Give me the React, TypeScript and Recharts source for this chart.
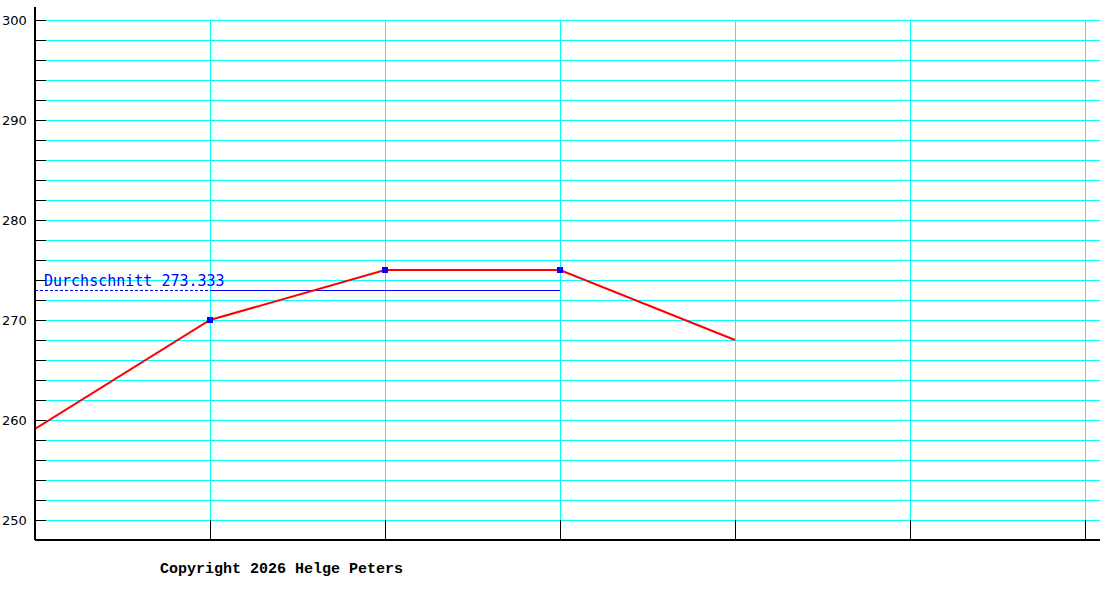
import { ComposedChart, Line, XAxis, YAxis, ReferenceLine } from 'recharts'

// measurement points (positions on the x axis) and their values
const xPositions = [0, 1, 2, 3, 4]
const values = [259.1, 270, 275, 275, 268]

const yTicks = [250, 252, 254, 256, 258, 260, 262, 264, 266, 268, 270, 272, 274, 276, 278, 280, 282, 284, 286, 288, 290, 292, 294, 296, 298, 300]
const xTicks = [1, 2, 3, 4, 5, 6]

// the line is drawn at the rounded average
const averageLineValue = 273
const averageLabel = 'Durchschnitt 273.333'
const copyright = 'Copyright 2026 Helge Peters'

const chartData = xPositions.map((x, i) => ({ x, value: values[i] }))

function YTick(props: any) {
  const { x, y, payload } = props
  const v = payload.value
  return (
    <g>
      <line x1={x + 10} y1={y} x2={x + 21} y2={y} stroke="#000" strokeWidth={1} shapeRendering="crispEdges" />
      {v % 10 === 0 && (
        <text x={x - 23} y={y} dy={5} textAnchor="start" fontFamily="DejaVu Sans" fontSize={13} fill="#000">
          {v}
        </text>
      )}
    </g>
  )
}

function XTick(props: any) {
  const { x, y } = props
  return <line x1={x} y1={y} x2={x} y2={y - 20} stroke="#000" strokeWidth={1} shapeRendering="crispEdges" />
}

function Marker(props: any) {
  const { cx, cy, index } = props
  if (index === 0 || index === values.length - 1) return <g key={index} />
  return <rect key={index} x={cx - 3} y={cy - 3} width={6} height={6} fill="#0000ff" />
}

export default function App() {
  return (
    <div style={{ position: 'absolute', left: 0, top: 0, width: 1100, height: 600, background: '#fff' }}>
      <ComposedChart width={1100} height={600} data={chartData} margin={{ top: 7, right: 0, bottom: 0, left: 0 }}>
        {yTicks.map((t) => (
          <ReferenceLine key={'h' + t} y={t} stroke="#00ffff" strokeWidth={1} shapeRendering="crispEdges" />
        ))}
        {xTicks.map((t) => (
          <ReferenceLine
            key={'v' + t}
            segment={[{ x: t, y: 250 }, { x: t, y: 300 }]}
            stroke="#00ffff"
            strokeWidth={1}
            shapeRendering="crispEdges"
          />
        ))}
        <XAxis
          dataKey="x"
          type="number"
          domain={[0, 1065 / 175]}
          ticks={xTicks}
          height={60}
          axisLine={{ stroke: '#000', strokeWidth: 2 }}
          tickLine={false}
          tickSize={0}
          tickMargin={0}
          tick={<XTick />}
          allowDataOverflow
        />
        <YAxis
          type="number"
          domain={[248, 301.3]}
          ticks={yTicks}
          width={35}
          axisLine={{ stroke: '#000', strokeWidth: 2 }}
          tickLine={false}
          tickSize={0}
          tickMargin={10}
          tick={<YTick />}
          interval={0}
          allowDataOverflow
        />
        <ReferenceLine
          segment={[{ x: 0, y: averageLineValue }, { x: 1, y: averageLineValue }]}
          stroke="#0000ff"
          strokeWidth={1}
          strokeDasharray="3 2"
          shapeRendering="crispEdges"
          label={{
            value: averageLabel,
            position: 'insideTopLeft',
            fill: '#0000ff',
            fontFamily: 'DejaVu Sans Mono',
            fontSize: 15,
            dx: 4,
            dy: -20,
          }}
        />
        <ReferenceLine
          segment={[{ x: 1, y: averageLineValue }, { x: 3, y: averageLineValue }]}
          stroke="#0000ff"
          strokeWidth={1}
          shapeRendering="crispEdges"
        />
        <Line
          dataKey="value"
          type="linear"
          stroke="#ff0000"
          strokeWidth={2}
          dot={<Marker />}
          activeDot={false}
          isAnimationActive={false}
        />
      </ComposedChart>
      <div
        style={{
          position: 'absolute',
          left: 160,
          top: 561,
          fontFamily: 'Liberation Mono',
          fontWeight: 'bold',
          fontSize: 15,
          color: '#000',
          whiteSpace: 'pre',
        }}
      >
        {copyright}
      </div>
    </div>
  )
}
